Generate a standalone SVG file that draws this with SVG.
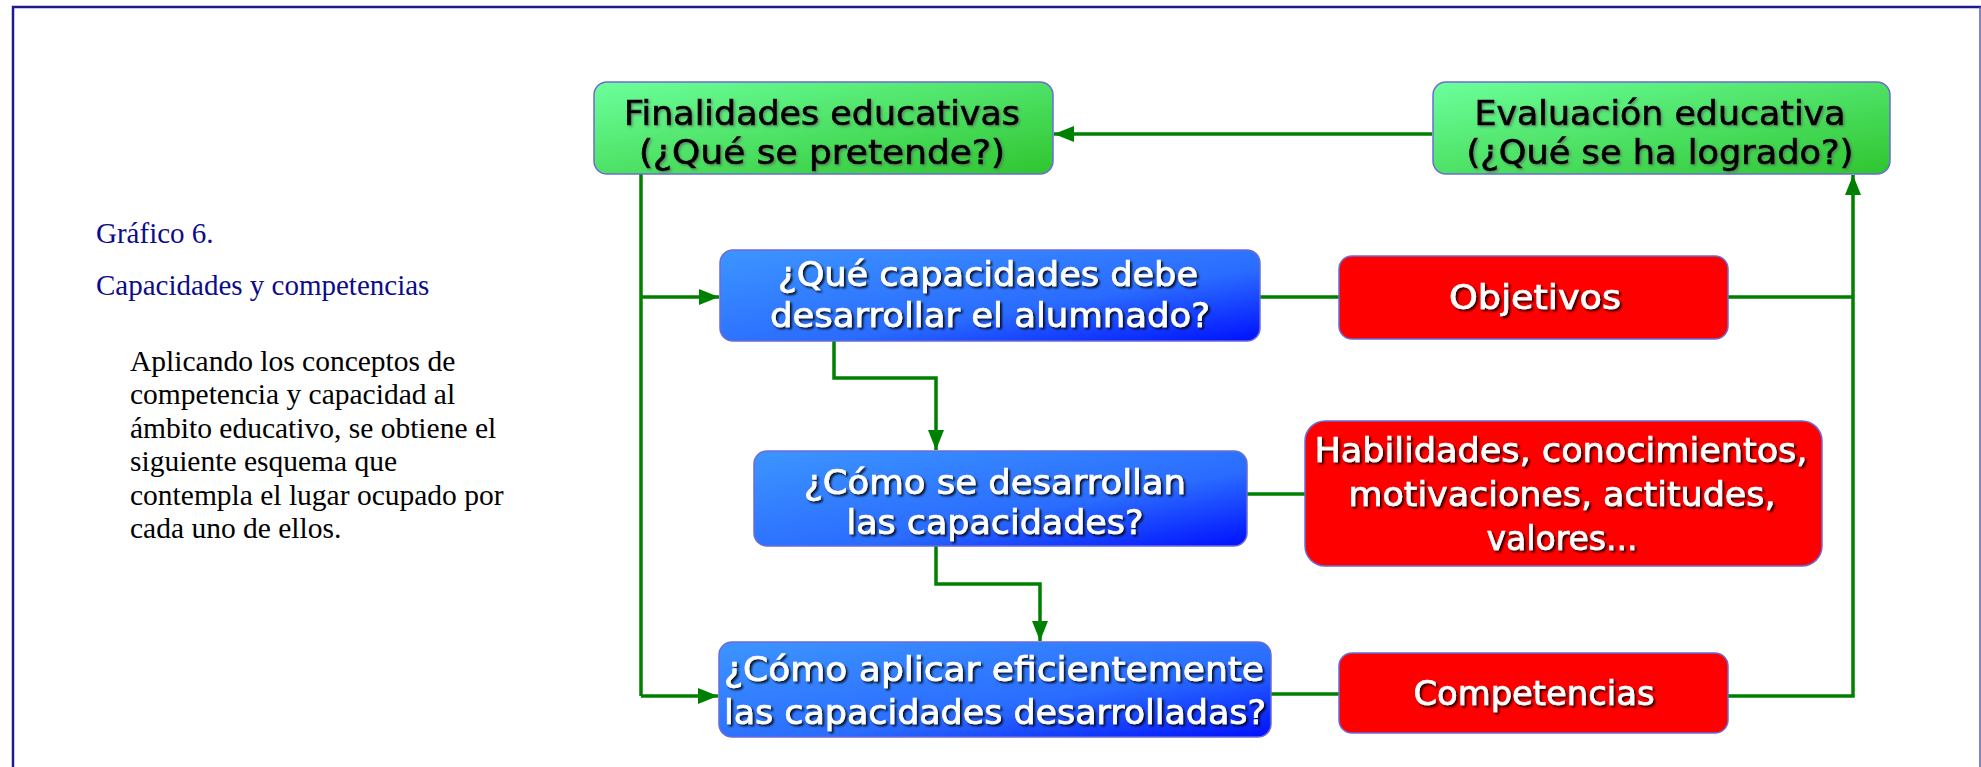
<svg xmlns="http://www.w3.org/2000/svg" width="1981" height="767" viewBox="0 0 1981 767">
<defs>
<linearGradient id="gGreen" x1="0" y1="0" x2="1" y2="1">
<stop offset="0" stop-color="#6cff9c"/>
<stop offset="1" stop-color="#2fc52f"/>
</linearGradient>
<linearGradient id="gBlue" x1="0" y1="0" x2="1" y2="1">
<stop offset="0" stop-color="#3d95ff"/>
<stop offset="0.6" stop-color="#2a6cff"/>
<stop offset="1" stop-color="#0010ff"/>
</linearGradient>
<filter id="shW" x="-5%" y="-20%" width="110%" height="140%">
<feDropShadow dx="2" dy="2" stdDeviation="0.8" flood-color="#000000" flood-opacity="0.85"/>
</filter>
<filter id="shB" x="-5%" y="-20%" width="110%" height="140%">
<feDropShadow dx="1.5" dy="1.5" stdDeviation="0.8" flood-color="#555555" flood-opacity="0.6"/>
</filter>
<marker id="arr" markerUnits="userSpaceOnUse" markerWidth="22" markerHeight="18" refX="20" refY="8" orient="auto">
<path d="M0,0 L20,8 L0,16 Z" fill="#008000"/>
</marker>
</defs>
<style>
.frame{stroke:#1c1c8f;stroke-width:2.5;fill:none}
.title{font-family:"Liberation Serif","Times New Roman",serif;font-size:29px;fill:#0c0c8a}
.para{font-family:"Liberation Serif","Times New Roman",serif;font-size:29.5px;fill:#000000}
.box{stroke:#6b6bd6;stroke-width:1.5}
.green{fill:url(#gGreen)}
.blue{fill:url(#gBlue)}
.red{fill:#ff0000}
.lbl{font-family:"DejaVu Sans","Noto Sans",sans-serif;font-size:34px;text-anchor:middle;stroke-width:0.7}
.dark{fill:#000000;stroke:#000000;filter:url(#shB)}
.light{fill:#ffffff;stroke:#ffffff;filter:url(#shW)}
.con{stroke:#008000;stroke-width:3.5;fill:none}
</style>
<rect width="1981" height="767" fill="#ffffff"/>
<path class="frame" d="M13,767 L13,7 L1981,7"/>
<line x1="1980" y1="7" x2="1980" y2="767" stroke="#5a5ab8" stroke-width="1.5"/>

<g id="caption">
<text class="title" x="96" y="243">Gráfico 6.</text>
<text class="title" x="96" y="295">Capacidades y competencias</text>
<text class="para" x="130" y="371">Aplicando los conceptos de</text>
<text class="para" x="130" y="404">competencia y capacidad al</text>
<text class="para" x="130" y="438">ámbito educativo, se obtiene el</text>
<text class="para" x="130" y="471">siguiente esquema que</text>
<text class="para" x="130" y="505">contempla el lugar ocupado por</text>
<text class="para" x="130" y="538">cada uno de ellos.</text>
</g>

<g id="connectors">
<line class="con" x1="1432" y1="134" x2="1054" y2="134" marker-end="url(#arr)"/>
<polyline class="con" points="641,174 641,696"/>
<polyline class="con" points="641,297 719,297" marker-end="url(#arr)"/>
<polyline class="con" points="641,696 718,696" marker-end="url(#arr)"/>
<line class="con" x1="1260" y1="297" x2="1339" y2="297"/>
<polyline class="con" points="1728,297 1853,297"/>
<polyline class="con" points="1728,696 1853,696 1853,175" marker-end="url(#arr)"/>
<polyline class="con" points="834,341 834,378 936,378 936,450" marker-end="url(#arr)"/>
<line class="con" x1="1247" y1="494" x2="1305" y2="494"/>
<polyline class="con" points="936,546 936,584 1040,584 1040,641" marker-end="url(#arr)"/>
<line class="con" x1="1271" y1="694" x2="1339" y2="694"/>
</g>

<g id="finalidades">
<rect class="box green" x="594" y="82" width="459" height="92" rx="13"/>
<text class="lbl dark" x="822" y="125" textLength="396" lengthAdjust="spacingAndGlyphs">Finalidades educativas</text>
<text class="lbl dark" x="822" y="164" textLength="366" lengthAdjust="spacingAndGlyphs">(¿Qué se pretende?)</text>
</g>

<g id="evaluacion">
<rect class="box green" x="1433" y="82" width="457" height="92" rx="13"/>
<text class="lbl dark" x="1660" y="125" textLength="371" lengthAdjust="spacingAndGlyphs">Evaluación educativa</text>
<text class="lbl dark" x="1660" y="164" textLength="387" lengthAdjust="spacingAndGlyphs">(¿Qué se ha logrado?)</text>
</g>

<g id="q-capacidades">
<rect class="box blue" x="720" y="250" width="540" height="91" rx="13"/>
<text class="lbl light" x="988" y="286" textLength="420" lengthAdjust="spacingAndGlyphs">¿Qué capacidades debe</text>
<text class="lbl light" x="990" y="327" textLength="440" lengthAdjust="spacingAndGlyphs">desarrollar el alumnado?</text>
</g>

<g id="objetivos">
<rect class="box red" x="1339" y="256" width="389" height="83" rx="13"/>
<text class="lbl light" x="1535" y="309" textLength="172" lengthAdjust="spacingAndGlyphs">Objetivos</text>
</g>

<g id="q-desarrollan">
<rect class="box blue" x="754" y="451" width="493" height="95" rx="13"/>
<text class="lbl light" x="995" y="494" textLength="382" lengthAdjust="spacingAndGlyphs">¿Cómo se desarrollan</text>
<text class="lbl light" x="995" y="534" textLength="297" lengthAdjust="spacingAndGlyphs">las capacidades?</text>
</g>

<g id="habilidades">
<rect class="box red" x="1305" y="421" width="517" height="145" rx="20"/>
<text class="lbl light" x="1561" y="462" textLength="493" lengthAdjust="spacingAndGlyphs">Habilidades, conocimientos,</text>
<text class="lbl light" x="1562" y="506" textLength="427" lengthAdjust="spacingAndGlyphs">motivaciones, actitudes,</text>
<text class="lbl light" x="1562" y="550" textLength="151" lengthAdjust="spacingAndGlyphs">valores...</text>
</g>

<g id="q-aplicar">
<rect class="box blue" x="719" y="642" width="552" height="95" rx="13"/>
<text class="lbl light" x="994" y="681" textLength="540" lengthAdjust="spacingAndGlyphs">¿Cómo aplicar eficientemente</text>
<text class="lbl light" x="995" y="724" textLength="542" lengthAdjust="spacingAndGlyphs">las capacidades desarrolladas?</text>
</g>

<g id="competencias">
<rect class="box red" x="1339" y="653" width="389" height="80" rx="13"/>
<text class="lbl light" x="1534" y="705" textLength="241" lengthAdjust="spacingAndGlyphs">Competencias</text>
</g>
</svg>
